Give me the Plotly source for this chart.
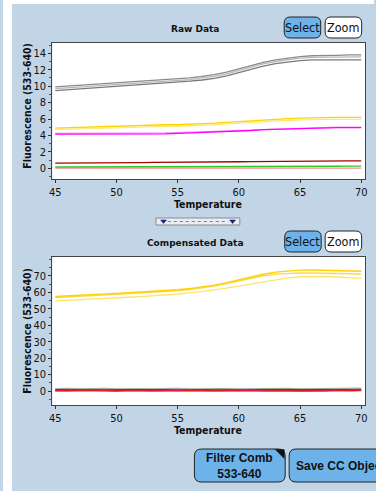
import plotly.graph_objects as go

W, H = 376, 491

temps = list(range(45, 71))

# ---- Raw data (Fluorescence 533-640) ----
raw_gray_1 = [9.9, 10.0, 10.1, 10.2, 10.3, 10.4, 10.5, 10.6, 10.7, 10.8, 10.9, 11.0, 11.2,
              11.4, 11.7, 12.1, 12.5, 12.9, 13.2, 13.4, 13.6, 13.7, 13.7, 13.75, 13.8, 13.8]
raw_gray_2 = [9.7, 9.8, 9.9, 10.0, 10.1, 10.2, 10.3, 10.4, 10.5, 10.6, 10.7, 10.8, 11.0,
              11.2, 11.5, 11.9, 12.3, 12.7, 13.0, 13.2, 13.4, 13.5, 13.5, 13.5, 13.55, 13.55]
raw_gray_3 = [9.45, 9.55, 9.65, 9.75, 9.85, 9.95, 10.05, 10.15, 10.25, 10.35, 10.45, 10.6, 10.75,
              10.95, 11.25, 11.65, 12.05, 12.45, 12.75, 12.95, 13.1, 13.2, 13.2, 13.2, 13.2, 13.2]
raw_yellow_1 = [4.9, 4.95, 5.0, 5.0, 5.05, 5.1, 5.15, 5.2, 5.25, 5.3, 5.3, 5.35, 5.4,
                5.5, 5.6, 5.7, 5.8, 5.9, 6.0, 6.05, 6.1, 6.15, 6.2, 6.2, 6.2, 6.2]
raw_yellow_2 = [4.7, 4.75, 4.8, 4.8, 4.85, 4.9, 4.95, 5.0, 5.05, 5.1, 5.1, 5.15, 5.2,
                5.3, 5.4, 5.5, 5.6, 5.7, 5.8, 5.85, 5.9, 5.95, 5.95, 5.95, 5.95, 5.95]
raw_magenta_1 = [4.15, 4.15, 4.15, 4.15, 4.15, 4.15, 4.15, 4.15, 4.2, 4.2, 4.25, 4.3, 4.35,
                 4.4, 4.45, 4.55, 4.6, 4.7, 4.75, 4.8, 4.85, 4.9, 4.9, 4.95, 4.95, 4.95]
raw_magenta_2 = [4.25, 4.25, 4.25, 4.25, 4.25, 4.25, 4.25, 4.25, 4.3, 4.3, 4.35, 4.4, 4.45,
                 4.5, 4.55, 4.6, 4.7, 4.75, 4.8, 4.85, 4.9, 4.95, 4.95, 5.0, 5.0, 5.0]
raw_darkred = [0.62, 0.62, 0.63, 0.63, 0.64, 0.65, 0.7, 0.7, 0.72, 0.72, 0.72, 0.73, 0.74,
               0.76, 0.78, 0.8, 0.82, 0.84, 0.86, 0.88, 0.9, 0.9, 0.9, 0.9, 0.9, 0.9]
raw_green = [0.16, 0.16, 0.16, 0.17, 0.17, 0.17, 0.18, 0.18, 0.18, 0.19, 0.19, 0.2, 0.2,
             0.21, 0.21, 0.22, 0.22, 0.23, 0.23, 0.24, 0.24, 0.25, 0.25, 0.25, 0.26, 0.26]
raw_salmon = [0.02, 0.02, 0.02, 0.02, 0.02, 0.02, 0.02, 0.02, 0.02, 0.02, 0.02, 0.02, 0.02,
              0.02, 0.02, 0.02, 0.02, 0.02, 0.02, 0.02, 0.02, 0.02, 0.02, 0.02, 0.02, 0.02]

# ---- Compensated data ----
comp_yellow_1 = [57.5, 57.8, 58.2, 58.6, 59.0, 59.4, 59.8, 60.2, 60.6, 61.1, 61.6, 62.3, 63.2,
                 64.4, 65.9, 67.6, 69.4, 71.0, 72.3, 73.1, 73.5, 73.6, 73.5, 73.3, 73.0, 72.8]
comp_yellow_2 = [56.9, 57.2, 57.6, 58.0, 58.4, 58.8, 59.2, 59.6, 60.0, 60.5, 61.0, 61.7, 62.6,
                 63.8, 65.3, 67.0, 68.7, 70.1, 71.1, 71.6, 71.8, 71.8, 71.7, 71.5, 71.3, 71.2]
comp_yellow_3 = [54.8, 55.1, 55.4, 55.8, 56.2, 56.6, 57.0, 57.4, 57.8, 58.4, 59.0, 59.7, 60.5,
                 61.5, 62.6, 63.9, 65.3, 66.6, 67.8, 68.8, 69.5, 69.7, 69.6, 69.3, 68.9, 68.5]
comp_gray = [1.3, 1.5, 1.2, 1.4, 1.6, 1.3, 1.2, 1.5, 1.3, 1.4, 1.6, 1.2, 1.3,
             1.5, 1.4, 1.2, 1.3, 1.6, 1.8, 1.5, 1.3, 1.4, 1.2, 1.5, 1.4, 1.7]
comp_darkred = [0.6, 0.5, 0.7, 0.6, 0.5, 0.6, 0.7, 0.5, 0.6, 0.6, 0.5, 0.7, 0.6,
                0.5, 0.6, 0.7, 0.6, 0.5, 0.6, 0.7, 0.6, 0.5, 0.6, 0.6, 0.7, 0.6]
comp_magenta = [0.3, 0.1, 0.4, 0.2, 0.3, 0.0, 0.4, 0.2, 0.1, 0.3, 0.4, 0.2, 0.3,
                0.1, 0.3, 0.2, 0.4, 0.1, 0.3, 0.2, 0.0, 0.3, 0.2, 0.4, 0.1, 0.3]
comp_green = [0.8, 0.6, 0.9, 0.7, 0.8, 0.6, 0.9, 0.8, 0.7, 0.9, 0.6, 0.8, 0.7,
              0.9, 0.8, 0.6, 0.7, 0.9, 0.8, 0.7, 0.6, 0.8, 0.9, 0.7, 0.8, 0.7]
comp_red = [0.2, 0.3, 0.1, 0.2, 0.3, 0.2, 0.1, 0.3, 0.2, 0.2, 0.1, 0.3, 0.2,
            0.1, 0.2, 0.3, 0.2, 0.1, 0.2, 0.3, 0.2, 0.2, 0.1, 0.2, 0.3, 0.4]

x_ticks = [45, 50, 55, 60, 65, 70]
raw_y_ticks = [0, 2, 4, 6, 8, 10, 12, 14]
comp_y_ticks = [0, 10, 20, 30, 40, 50, 60, 70]

BG = "#C2D5E6"
NARROW = "Liberation Sans Narrow, DejaVu Sans Condensed, Liberation Sans, Arial"
TICKFONT = dict(family=NARROW, size=11, color="#111")


def px(x):
    return x / W


def py(y):
    return 1 - y / H


fig = go.Figure()

raw_series = [
    (raw_gray_1, "#8a8a8a"), (raw_gray_2, "#b8b8b8"), (raw_gray_3, "#7a7a7a"),
    (raw_yellow_2, "#FFE97A"), (raw_yellow_1, "#FFD200"),
    (raw_magenta_2, "#FF8CFF"), (raw_magenta_1, "#FF00FF"),
    (raw_salmon, "#FF8A8A"), (raw_green, "#2DC82D"), (raw_darkred, "#A80000"),
]
for ys, c in raw_series:
    fig.add_trace(go.Scatter(x=temps, y=ys, mode="lines", line=dict(color=c, width=1.3),
                             xaxis="x", yaxis="y", showlegend=False, hoverinfo="skip"))

comp_series = [
    (comp_gray, "#A8A8A8"), (comp_green, "#39C839"), (comp_darkred, "#A00000"),
    (comp_magenta, "#FF00FF"), (comp_red, "#E02020"),
    (comp_yellow_3, "#FFE46A"), (comp_yellow_2, "#FFD84A"), (comp_yellow_1, "#FFD000"),
]
for ys, c in comp_series:
    fig.add_trace(go.Scatter(x=temps, y=ys, mode="lines", line=dict(color=c, width=1.4),
                             xaxis="x2", yaxis="y2", showlegend=False, hoverinfo="skip"))

axis_common = dict(showline=True, linecolor="#444", linewidth=1, mirror=True, ticks="outside",
                   ticklen=3, tickcolor="#333", showgrid=False, zeroline=False,
                   tickfont=TICKFONT, fixedrange=True)

xdom = [px(50), px(367)]
fig.update_layout(
    width=W, height=H, margin=dict(l=0, r=0, t=0, b=0),
    paper_bgcolor=BG, plot_bgcolor="white",
    xaxis=dict(domain=xdom, range=[44.76, 70.32], tickvals=x_ticks, anchor="y", **axis_common),
    yaxis=dict(domain=[py(179), py(43)], range=[-1.3, 15.25], tickvals=raw_y_ticks, anchor="x",
               minor=dict(ticks="outside", ticklen=2, tickcolor="#555", dtick=1), **axis_common),
    xaxis2=dict(domain=xdom, range=[44.76, 70.32], tickvals=x_ticks, anchor="y2", **axis_common),
    yaxis2=dict(domain=[py(405), py(257)], range=[-8.5, 81.5], tickvals=comp_y_ticks, anchor="x2",
                minor=dict(ticks="outside", ticklen=2, tickcolor="#555", dtick=5), **axis_common),
)

shapes = []
annotations = []

# white strips at top and left
shapes.append(dict(type="rect", xref="paper", yref="paper", x0=0, x1=1, y0=py(4), y1=1,
                   fillcolor="white", line=dict(width=0), layer="below"))
shapes.append(dict(type="rect", xref="paper", yref="paper", x0=0, x1=px(9), y0=0, y1=1,
                   fillcolor="white", line=dict(width=0), layer="below"))


def rounded(x0, y0, x1, y1, r=5):
    def P(x, y):
        return f"{px(x)},{py(y)}"
    return (f"M {P(x0 + r, y0)} L {P(x1 - r, y0)} Q {P(x1, y0)} {P(x1, y0 + r)} "
            f"L {P(x1, y1 - r)} Q {P(x1, y1)} {P(x1 - r, y1)} L {P(x0 + r, y1)} "
            f"Q {P(x0, y1)} {P(x0, y1 - r)} L {P(x0, y0 + r)} Q {P(x0, y0)} {P(x0 + r, y0)} Z")


BTN_FONT = dict(family=NARROW, size=12.5, color="#111")


def button(x0, y0, x1, y1, label, fill, font=BTN_FONT, r=6):
    shapes.append(dict(type="path", xref="paper", yref="paper", path=rounded(x0, y0, x1, y1, r),
                       fillcolor=fill, line=dict(color="#222", width=1)))
    annotations.append(dict(xref="paper", yref="paper", x=px((x0 + x1) / 2), y=py((y0 + y1) / 2),
                            text=label, showarrow=False, font=font, xanchor="center",
                            yanchor="middle"))


BLUE = "#6DB3EA"
button(285, 17, 322, 38, "Select", BLUE)
button(326.5, 17, 363.5, 38, "Zoom", "white")
button(285.5, 231, 322.5, 252, "Select", BLUE)
button(326.5, 231, 363.5, 252, "Zoom", "white")

# plot titles
TITLE_FONT = dict(family="DejaVu Sans", size=9, color="#111")
annotations.append(dict(xref="paper", yref="paper", x=px(195), y=py(29), text="<b>Raw Data</b>",
                        showarrow=False, font=TITLE_FONT, xanchor="center", yanchor="middle"))
annotations.append(dict(xref="paper", yref="paper", x=px(195), y=py(243),
                        text="<b>Compensated Data</b>", showarrow=False, font=TITLE_FONT,
                        xanchor="center", yanchor="middle"))

# axis titles
AX_FONT = dict(family=NARROW, size=10.5, color="#111")
for yc in (204, 430):
    annotations.append(dict(xref="paper", yref="paper", x=px(208), y=py(yc),
                            text="<b>Temperature</b>", showarrow=False, font=AX_FONT,
                            xanchor="center", yanchor="middle"))
for yc in (106, 331):
    annotations.append(dict(xref="paper", yref="paper", x=px(24), y=py(yc),
                            text="<b>Fluorescence (533-640)</b>", showarrow=False, font=AX_FONT,
                            textangle=-90, xanchor="center", yanchor="middle"))

# divider widget
shapes.append(dict(type="rect", xref="paper", yref="paper", x0=px(155), x1=px(240),
                   y0=py(225), y1=py(218), fillcolor="#E9ECF2", line=dict(color="#8A8A8A", width=1)))
shapes.append(dict(type="line", xref="paper", yref="paper", x0=px(167), x1=px(228),
                   y0=py(221.5), y1=py(221.5), line=dict(color="#7080B0", width=1, dash="dot")))
for cx in (162.7, 232.7):
    shapes.append(dict(type="path", xref="paper", yref="paper",
                       path=f"M {px(cx - 3)},{py(220)} L {px(cx + 3)},{py(220)} L {px(cx)},{py(223.5)} Z",
                       fillcolor="#1A237E", line=dict(color="#1A237E", width=0.5)))

# bottom buttons
BOT_FONT = dict(family="Liberation Sans, Arial", size=12, color="#111")
button(194, 449, 286, 482, "<b>Filter Comb</b><br><b>533-640</b>", BLUE, font=BOT_FONT, r=7)
button(290, 449, 400, 482, "", BLUE, r=7)
annotations.append(dict(xref="paper", yref="paper", x=px(295), y=py(465.5),
                        text="<b>Save CC Object</b>", showarrow=False, font=BOT_FONT,
                        xanchor="left", yanchor="middle"))
for rx in (286, 400):
    shapes.append(dict(type="path", xref="paper", yref="paper",
                       path=f"M {px(rx - 10)},{py(449.5)} L {px(rx - 1)},{py(449.5)} L {px(rx - 1)},{py(458.5)} Z",
                       fillcolor="#111", line=dict(color="#111", width=0.5)))

fig.update_layout(shapes=shapes, annotations=annotations)
fig.write_html("out.html", config={"displayModeBar": False},
               post_script="document.body.style.margin='0px';document.body.style.overflow='hidden';")
